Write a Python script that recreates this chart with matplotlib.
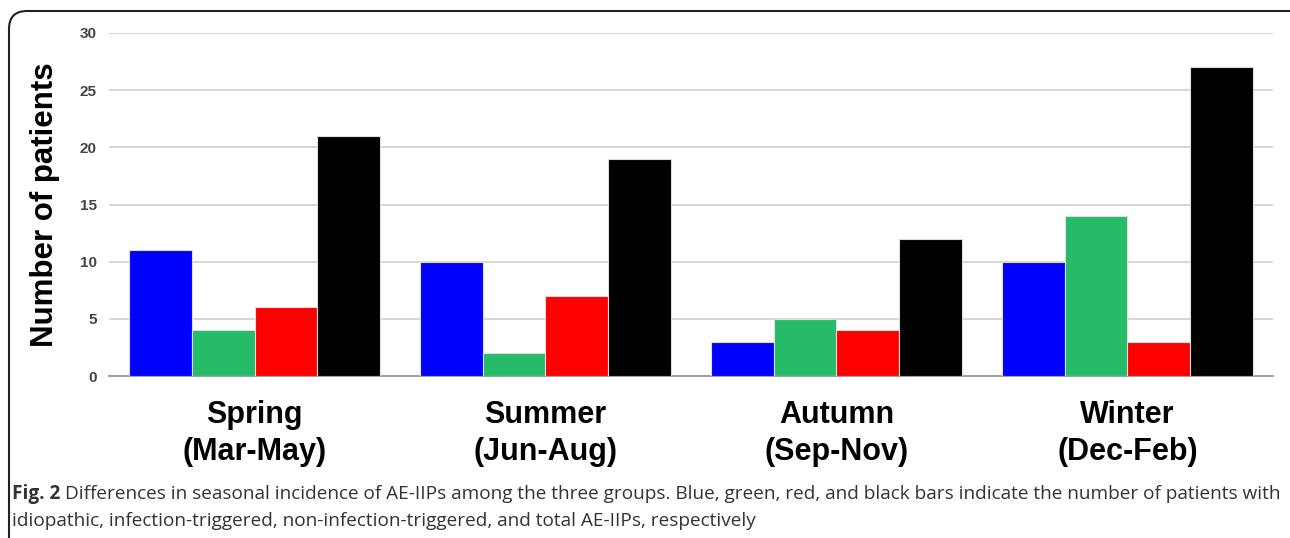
import matplotlib.pyplot as plt
import numpy as np
from matplotlib.patches import FancyBboxPatch

# data
seasons = ["Spring\n(Mar-May)", "Summer\n(Jun-Aug)", "Autumn\n(Sep-Nov)", "Winter\n(Dec-Feb)"]
idiopathic = [11, 10, 3, 10]
infection = [4, 2, 5, 14]
non_infection = [6, 7, 4, 3]
total = [21, 19, 12, 27]

series = [idiopathic, infection, non_infection, total]
colors = ["#0000ff", "#26bb68", "#ff0000", "#000000"]

fig = plt.figure(figsize=(12.9, 5.38), dpi=100)
ax = fig.add_axes([0.0845, 0.301, 0.9023, 0.6377])

x = np.arange(len(seasons))
w = 0.215
for i, vals in enumerate(series):
    ax.bar(x + (i - 1.5) * w, vals, width=w, color=colors[i],
           edgecolor="#dddddd", linewidth=0.8, zorder=3)

ax.set_xlim(-0.5, 3.5)
ax.set_ylim(0, 30)
ax.set_yticks([0, 5, 10, 15, 20, 25, 30])
ax.yaxis.grid(True, color="#d0d0d0", linewidth=1.2, zorder=0)
for s in ["top", "right", "left"]:
    ax.spines[s].set_visible(False)
ax.spines["bottom"].set_color("#999999")
ax.spines["bottom"].set_linewidth(1.3)
ax.tick_params(axis="y", length=0, pad=9, labelsize=11, labelcolor="#444444")
ax.tick_params(axis="x", length=0, pad=17)
for t in ax.get_yticklabels():
    t.set_fontweight("bold")
    t.set_family("Liberation Sans")
ax.set_xticks(x)
ax.set_xticklabels(seasons, fontsize=22, fontweight="bold", family="Liberation Sans",
                   linespacing=1.3)
ax.set_ylabel("Number of patients", fontsize=22.5, fontweight="heavy",
              family="Liberation Sans", labelpad=14)

# rounded frame around the figure
frame = FancyBboxPatch((9 / 1290, -0.05), 1.2, 1.05 - 11 / 538,
                       boxstyle="round,pad=0,rounding_size=0.014",
                       transform=fig.transFigure, fill=False,
                       edgecolor="#222222", linewidth=1.5, mutation_aspect=1290 / 538)
fig.patches.append(frame)

cap_size = 13.7
y1 = 1 - 494 / 538
y2 = 1 - 521 / 538
fig_lbl = fig.text(12 / 1290, y1, "Fig. 2", fontsize=cap_size, color="#333333",
                   va="center", family="Open Sans", fontweight="bold")
r = fig.canvas.get_renderer()
bb = fig_lbl.get_window_extent(r)
fig.text((bb.x1 + 5) / 1290, y1,
         "Differences in seasonal incidence of AE-IIPs among the three groups. Blue, green, red, and black bars indicate the number of patients with",
         fontsize=cap_size, color="#333333", va="center", family="Open Sans")
fig.text(12 / 1290, y2,
         "idiopathic, infection-triggered, non-infection-triggered, and total AE-IIPs, respectively",
         fontsize=cap_size, color="#333333", va="center", family="Open Sans")

fig.savefig("out.png", dpi=100)
